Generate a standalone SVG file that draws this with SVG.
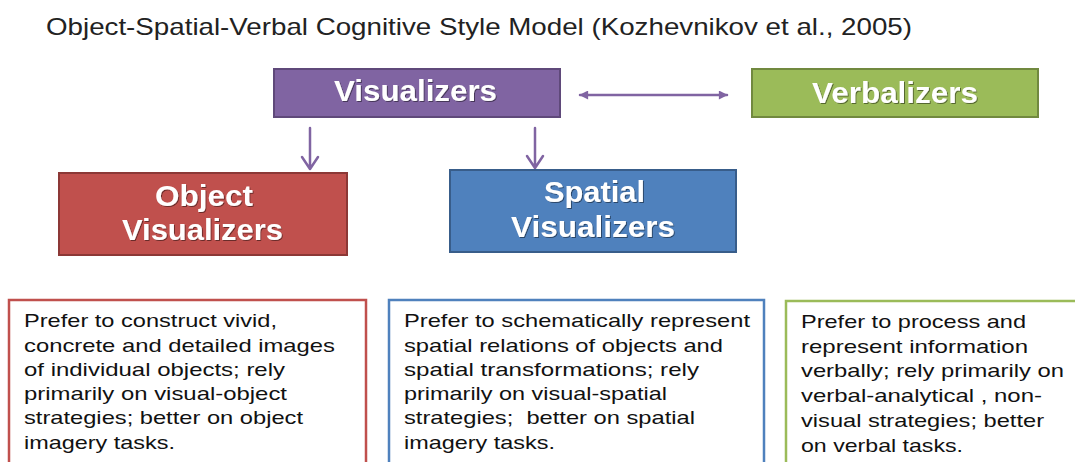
<svg xmlns="http://www.w3.org/2000/svg" width="1075" height="462" viewBox="0 0 1075 462">
<style>
.title{font-family:"Liberation Sans",Arial,sans-serif;font-size:24px;fill:#222}
.lbl{font-family:"Liberation Sans",Arial,sans-serif;font-weight:bold;font-size:29px;fill:#fff;filter:url(#sh)}
.body{font-family:"Liberation Sans",Arial,sans-serif;font-size:19px;fill:#111}
.con{stroke:#8064A2;stroke-width:2.5;fill:none;stroke-linecap:round;stroke-linejoin:round}
</style>
<defs>
<filter id="sh" x="-10%" y="-20%" width="120%" height="150%">
<feDropShadow dx="1" dy="1" stdDeviation="0.7" flood-color="#000" flood-opacity="0.45"/>
</filter>
<marker id="tri" viewBox="0 0 10 10" refX="9" refY="5" markerWidth="4" markerHeight="3.6" orient="auto-start-reverse" markerUnits="strokeWidth">
<path d="M0,0 L10,5 L0,10 Z" fill="#8064A2"/>
</marker>
</defs>
<rect width="1075" height="462" fill="#fff"/>
<text class="title" x="46" y="35" textLength="866" lengthAdjust="spacingAndGlyphs">Object-Spatial-Verbal Cognitive Style Model (Kozhevnikov et al., 2005)</text>

<g id="connectors">
<path class="con" d="M310,128 V169 M302,157 L310,169 L318,157"/>
<path class="con" d="M535,128 V168 M527,156 L535,168 L543,156"/>
<line class="con" x1="580" y1="95" x2="727" y2="95" stroke-width="3" marker-start="url(#tri)" marker-end="url(#tri)"/>
</g>

<g id="visualizers">
<rect x="274" y="69" width="286" height="48" fill="#8064A2" stroke="#5F497A" stroke-width="2"/>
<text class="lbl" x="334" y="101" textLength="163" lengthAdjust="spacingAndGlyphs">Visualizers</text>
</g>
<g id="verbalizers">
<rect x="752" y="69" width="286" height="48" fill="#9BBB59" stroke="#71893F" stroke-width="2"/>
<text class="lbl" x="812" y="103" textLength="166" lengthAdjust="spacingAndGlyphs">Verbalizers</text>
</g>
<g id="object-visualizers">
<rect x="59" y="173" width="288" height="82" fill="#C0504D" stroke="#8C3836" stroke-width="2"/>
<text class="lbl" x="155" y="206" textLength="98" lengthAdjust="spacingAndGlyphs">Object</text>
<text class="lbl" x="122" y="240" textLength="161" lengthAdjust="spacingAndGlyphs">Visualizers</text>
</g>
<g id="spatial-visualizers">
<rect x="450" y="170" width="286" height="82" fill="#4F81BD" stroke="#385D8A" stroke-width="2"/>
<text class="lbl" x="544" y="202" textLength="101" lengthAdjust="spacingAndGlyphs">Spatial</text>
<text class="lbl" x="511" y="237" textLength="164" lengthAdjust="spacingAndGlyphs">Visualizers</text>
</g>

<g id="object-desc">
<rect x="9" y="300" width="357" height="180" fill="#fff" stroke="#C0504D" stroke-width="2.5"/>
<text class="body" x="24" y="327" textLength="253" lengthAdjust="spacingAndGlyphs">Prefer to construct vivid,</text>
<text class="body" x="24" y="352" textLength="311" lengthAdjust="spacingAndGlyphs">concrete and detailed images</text>
<text class="body" x="24" y="376" textLength="261" lengthAdjust="spacingAndGlyphs">of individual objects; rely</text>
<text class="body" x="24" y="400" textLength="263" lengthAdjust="spacingAndGlyphs">primarily on visual-object</text>
<text class="body" x="24" y="424" textLength="279" lengthAdjust="spacingAndGlyphs">strategies; better on object</text>
<text class="body" x="24" y="449" textLength="151" lengthAdjust="spacingAndGlyphs">imagery tasks.</text>
</g>
<g id="spatial-desc">
<rect x="389" y="300" width="375" height="180" fill="#fff" stroke="#4F81BD" stroke-width="2.5"/>
<text class="body" x="404" y="327" textLength="346" lengthAdjust="spacingAndGlyphs">Prefer to schematically represent</text>
<text class="body" x="404" y="352" textLength="319" lengthAdjust="spacingAndGlyphs">spatial relations of objects and</text>
<text class="body" x="404" y="376" textLength="295" lengthAdjust="spacingAndGlyphs">spatial transformations; rely</text>
<text class="body" x="404" y="400" textLength="263" lengthAdjust="spacingAndGlyphs">primarily on visual-spatial</text>
<text class="body" x="404" y="424" textLength="291" lengthAdjust="spacingAndGlyphs" xml:space="preserve">strategies;  better on spatial</text>
<text class="body" x="404" y="449" textLength="151" lengthAdjust="spacingAndGlyphs">imagery tasks.</text>
</g>
<g id="verbal-desc">
<rect x="786" y="301" width="300" height="180" fill="#fff" stroke="#9BBB59" stroke-width="2.5"/>
<text class="body" x="801" y="328" textLength="225" lengthAdjust="spacingAndGlyphs">Prefer to process and</text>
<text class="body" x="801" y="353" textLength="227" lengthAdjust="spacingAndGlyphs">represent information</text>
<text class="body" x="801" y="377" textLength="263" lengthAdjust="spacingAndGlyphs">verbally; rely primarily on</text>
<text class="body" x="801" y="402" textLength="241" lengthAdjust="spacingAndGlyphs">verbal-analytical , non-</text>
<text class="body" x="801" y="427" textLength="243" lengthAdjust="spacingAndGlyphs">visual strategies; better</text>
<text class="body" x="801" y="452" textLength="162" lengthAdjust="spacingAndGlyphs">on verbal tasks.</text>
</g>
</svg>
